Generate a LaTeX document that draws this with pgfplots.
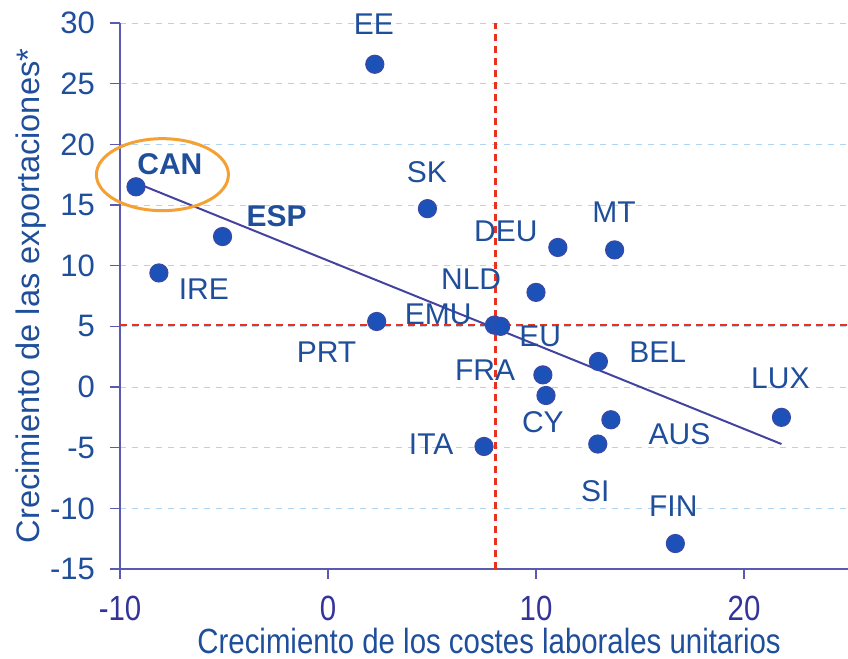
\documentclass[border=0pt]{standalone}
\usepackage{pgfplots}
\pgfplotsset{compat=1.18}
\usepackage{fontspec}
\setmainfont{Liberation Sans}
\definecolor{txtblue}{HTML}{1F4E9A}
\definecolor{tickind}{HTML}{333399}
\definecolor{axcol}{HTML}{5A5AB0}
\definecolor{trend}{HTML}{4444A0}
\definecolor{ptblue}{HTML}{1C52B8}
\definecolor{ptedge}{HTML}{3A48A8}
\definecolor{reddash}{HTML}{E8321E}
\definecolor{orng}{HTML}{F5A032}
\definecolor{gridblue}{HTML}{B0D4F0}
\begin{document}
\begin{tikzpicture}
\begin{axis}[
  scale only axis, width=364pt, height=273pt,
  xmin=-10, xmax=25, ymin=-15, ymax=30,
  clip=false,
  axis x line=bottom, axis y line=left,
  axis line style={axcol, -, line width=0.6pt},
  xtick={-10,0,10,20}, ytick={-15,-10,...,30},
  tick align=outside, major tick length=5pt,
  tick style={axcol, line width=0.6pt},
  ymajorgrids, grid style={gridblue, dashed, line width=0.4pt},
  /pgf/number format/assume math mode=true,
  yticklabel style={font=\fontsize{15.5}{15.5}\selectfont, text=txtblue, xshift=-4pt},
  xticklabel style={font=\fontsize{17.5}{17.5}\selectfont, text=tickind, xscale=0.84, yshift=-5pt},
  xlabel={Crecimiento de los costes laborales unitarios},
  ylabel={Crecimiento de las exportaciones*},
  every axis x label/.style={at={(axis description cs:0.507,-0.132)}, anchor=center,
     font=\fontsize{17.5}{17.5}\selectfont, text=txtblue, xscale=0.84},
  every axis y label/.style={at={(axis description cs:-0.122,0.5)}, anchor=center, rotate=90,
     font=\fontsize{16.3}{16.3}\selectfont, text=txtblue},
]
\coordinate (sw) at (rel axis cs:0,0);
\coordinate (ne) at (rel axis cs:1,1);
\addplot[reddash, line width=1.2pt, dash pattern=on 3.5pt off 2.5pt] coordinates {(8.05,-15) (8.05,30)};
\addplot[reddash, line width=1.2pt, dash pattern=on 3.5pt off 2.5pt] coordinates {(-10,5.1) (25,5.1)};
\addplot[only marks, mark=*, mark size=4.5pt, mark options={fill=ptblue, draw=ptedge, line width=0.6pt}] coordinates {
  (-9.23,16.5) (-5.07,12.4) (-8.13,9.4) (2.25,26.6) (4.78,14.7) (2.34,5.4)
  (8.0,5.1) (8.3,5.0) (10.0,7.8) (11.05,11.5) (13.78,11.3) (13.0,2.1)
  (10.33,1.0) (10.48,-0.7) (7.5,-4.9) (12.97,-4.7) (13.6,-2.7) (21.8,-2.5) (16.7,-12.9)
};
\addplot[trend, line width=1pt, no marks] coordinates {(-9.2,16.8) (21.8,-4.7)};
\draw[orng, line width=1.5pt] (axis cs:-7.96,17.5) ellipse [x radius=33pt, y radius=18pt];
\begin{scope}[every node/.style={font=\fontsize{15}{15}\selectfont, text=txtblue}]
\node at (axis cs:2.2,29.9) {EE};
\node[font=\fontsize{15}{15}\selectfont\bfseries] at (axis cs:-7.6,18.4) {CAN};
\node at (axis cs:4.75,17.7) {SK};
\node[font=\fontsize{15}{15}\selectfont\bfseries] at (axis cs:-2.47,14.1) {ESP};
\node at (axis cs:8.55,12.8) {DEU};
\node at (axis cs:13.75,14.4) {MT};
\node at (axis cs:6.88,8.9) {NLD};
\node at (axis cs:-5.97,8.1) {IRE};
\node at (axis cs:5.3,6.0) {EMU};
\node at (axis cs:-0.07,2.9) {PRT};
\node at (axis cs:10.2,4.2) {EU};
\node at (axis cs:15.85,2.9) {BEL};
\node at (axis cs:7.55,1.4) {FRA};
\node at (axis cs:21.75,0.75) {LUX};
\node at (axis cs:10.33,-2.9) {CY};
\node at (axis cs:16.9,-3.9) {AUS};
\node at (axis cs:4.96,-4.7) {ITA};
\node at (axis cs:12.85,-8.6) {SI};
\node at (axis cs:16.6,-9.8) {FIN};
\end{scope}
\end{axis}
\pgfresetboundingbox
\path[use as bounding box] ([xshift=-60pt,yshift=-44.5pt]sw) rectangle ([yshift=11.5pt]ne);
\end{tikzpicture}
\end{document}
